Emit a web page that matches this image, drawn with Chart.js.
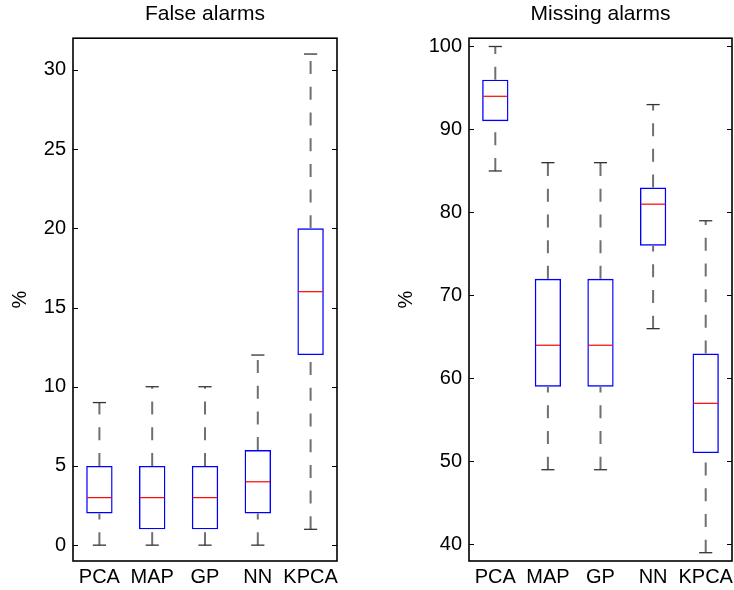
<!DOCTYPE html>
<html>
<head>
<meta charset="utf-8">
<script src="https://cdn.jsdelivr.net/npm/chart.js@4.4.1/dist/chart.umd.min.js"></script>
<style>
    html, body { margin: 0; padding: 0; background: #fff; }
    .panel { position: absolute; top: 0; width: 367px; height: 590px; }
</style>
</head>
<body>
<div class="panel" style="left:0"><canvas id="false-alarms-chart" width="367" height="590"></canvas></div>
<div class="panel" style="left:367px"><canvas id="missing-alarms-chart" width="367" height="590"></canvas></div>
<script>
const methods = ["PCA", "MAP", "GP", "NN", "KPCA"];

// False alarms (%)
const falseLow = [0, 0, 0, 0, 1];
const falseQ1 = [2, 1, 1, 2, 12];
const falseMedian = [3, 3, 3, 4, 16];
const falseQ3 = [5, 5, 5, 6, 20];
const falseHigh = [9, 10, 10, 12, 31];
const falseTicks = [0, 5, 10, 15, 20, 25, 30];

// Missing alarms (%)
const missLow = [85, 49, 49, 66, 39];
const missQ1 = [91, 59, 59, 76, 51];
const missMedian = [94, 64, 64, 81, 57];
const missQ3 = [96, 72, 72, 83, 63];
const missHigh = [100, 86, 86, 93, 79];
const missTicks = [40, 50, 60, 70, 80, 90, 100];

const FONT = "'Liberation Sans', Arial, Helvetica, sans-serif";

Chart.defaults.font.family = FONT;
Chart.defaults.color = "#000";

createBoxChart("false-alarms-chart", "False alarms",
    { low: falseLow, q1: falseQ1, median: falseMedian, q3: falseQ3, high: falseHigh },
    falseTicks, -1, 32, { axisWidth: 73, titlePad: 8.5, rightPad: 30 });

createBoxChart("missing-alarms-chart", "Missing alarms",
    { low: missLow, q1: missQ1, median: missMedian, q3: missQ3, high: missHigh },
    missTicks, 38, 101, { axisWidth: 102, titlePad: 27, rightPad: 2 });

// whiskers, caps, medians, frame and inward ticks (matlab style)
function boxExtras(stats, ticks) {
    return {
        id: "boxExtras",
        afterDatasetsDraw(chart) {
            const { ctx, chartArea, scales: { x, y } } = chart;
            const meta = chart.getDatasetMeta(0);
            ctx.save();
            meta.data.forEach((bar, i) => {
                const cx = x.getPixelForValue(i);
                const half = bar.width / 2;
                const capHalf = half / 2;
                const yLow = y.getPixelForValue(stats.low[i]);
                const yQ1 = y.getPixelForValue(stats.q1[i]);
                const yMed = y.getPixelForValue(stats.median[i]);
                const yQ3 = y.getPixelForValue(stats.q3[i]);
                const yHigh = y.getPixelForValue(stats.high[i]);

                // both whiskers are stroked bottom -> top, dash starts at the low end
                ctx.strokeStyle = "#707070";
                ctx.lineWidth = 2;
                ctx.setLineDash([13, 12.7]);
                line(ctx, cx, yLow, cx, yQ1);
                line(ctx, cx, yQ3, cx, yHigh);
                ctx.setLineDash([]);

                ctx.strokeStyle = "#333";
                ctx.lineWidth = 1.3;
                line(ctx, cx - capHalf, yHigh, cx + capHalf, yHigh);
                line(ctx, cx - capHalf, yLow, cx + capHalf, yLow);

                ctx.strokeStyle = "#ff0000";
                ctx.lineWidth = 1.2;
                line(ctx, cx - half + 1, yMed, cx + half - 1, yMed);
            });

            ctx.strokeStyle = "#000";
            ctx.lineWidth = 1;
            ticks.forEach(v => {
                const ty = Math.round(y.getPixelForValue(v)) + 0.5;
                line(ctx, chartArea.left, ty, chartArea.left + 5, ty);
                line(ctx, chartArea.right - 5, ty, chartArea.right, ty);
            });
            ctx.lineWidth = 1.6;
            ctx.strokeRect(chartArea.left, chartArea.top,
                chartArea.right - chartArea.left, chartArea.bottom - chartArea.top);
            ctx.restore();
        }
    };
}

function line(ctx, x1, y1, x2, y2) {
    ctx.beginPath();
    ctx.moveTo(x1, y1);
    ctx.lineTo(x2, y2);
    ctx.stroke();
}

function createBoxChart(elemId, title, stats, ticks, yMin, yMax, layout) {
    const boxes = methods.map((m, i) => [stats.q1[i], stats.q3[i]]);

    return new Chart(document.getElementById(elemId), {
        type: "bar",
        data: {
            labels: methods,
            datasets: [{
                data: boxes,
                backgroundColor: "rgba(0,0,0,0)",
                borderColor: "#0000ff",
                borderWidth: 1.4,
                borderSkipped: false,
                categoryPercentage: 1,
                barPercentage: 0.5
            }]
        },
        options: {
            responsive: false,
            animation: false,
            devicePixelRatio: 1,
            layout: { padding: { left: 0, right: layout.rightPad, top: 0, bottom: 0 } },
            plugins: {
                legend: { display: false },
                tooltip: { enabled: false },
                title: {
                    display: true,
                    text: title,
                    fullSize: false,
                    color: "#000",
                    font: { family: FONT, size: 21, weight: "normal" },
                    padding: { top: 2, bottom: 11 }
                }
            },
            scales: {
                x: {
                    type: "category",
                    offset: true,
                    grid: { display: false, drawTicks: false },
                    border: { display: false },
                    ticks: { font: { size: 20 }, color: "#000", padding: 4, maxRotation: 0, autoSkip: false },
                    afterFit: s => { s.height = 29; s.paddingLeft = 0; s.paddingRight = 0; }
                },
                y: {
                    min: yMin,
                    max: yMax,
                    grid: { display: false, drawTicks: false },
                    border: { display: false },
                    ticks: { font: { size: 20 }, color: "#000", padding: 7 },
                    afterBuildTicks: s => { s.ticks = ticks.map(v => ({ value: v })); },
                    afterFit: s => { s.width = layout.axisWidth; s.paddingTop = 0; s.paddingBottom = 0; },
                    title: {
                        display: true,
                        text: "%",
                        color: "#000",
                        font: { size: 20 },
                        padding: { top: layout.titlePad, bottom: 0 }
                    }
                }
            }
        },
        plugins: [boxExtras(stats, ticks)]
    });
}
</script>
</body>
</html>
